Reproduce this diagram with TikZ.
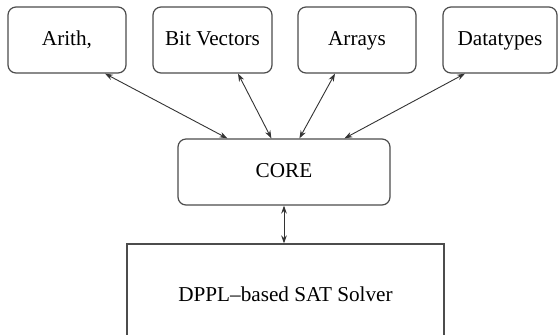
\documentclass[tikz,border=0pt]{standalone}
\usepackage{fontspec}
\setmainfont{Liberation Serif}
\usetikzlibrary{arrows.meta,calc,positioning}

\tikzset{
  theory/.style={draw=gray!60!black, line width=0.6pt, rounded corners=4pt,
    minimum height=33pt, inner sep=0pt, text height=7.5pt, text depth=2pt,
    font=\fontsize{10.6}{12}\selectfont},
  solver/.style={draw=gray!60!black, line width=0.6pt, minimum width=158.5pt,
    minimum height=50pt, inner sep=0pt, font=\fontsize{10.6}{12}\selectfont},
  link/.style={draw=gray!40!black, line width=0.45pt,
    {Stealth[length=4pt,width=2.8pt]}-{Stealth[length=4pt,width=2.8pt]}}
}

\begin{document}
\begin{tikzpicture}[x=0.5pt,y=-0.5pt]
    \useasboundingbox (0,0) rectangle (558,334);
    \node[theory, minimum width=59pt] (arith) at (67,40) {Arith,};
    \node[theory, minimum width=59.5pt] (bitvec) at (212.5,40) {Bit Vectors};
    \node[theory, minimum width=59pt] (arrays) at (357,40) {Arrays};
    \node[theory, minimum width=57pt] (dtypes) at (500,40) {Datatypes};
    \node[theory, minimum width=106pt] (core) at (284,172) {CORE};
    \node[solver] (sat) at (285.5,294) {DPPL--based SAT Solver};
    \draw[link] ([xshift=19pt]arith.south) -- ([xshift=25pt]core.north west);
    \draw[link] ([xshift=12.75pt]bitvec.south) -- ([xshift=47pt]core.north west);
    \draw[link] ([xshift=-11pt]arrays.south) -- ([xshift=61pt]core.north west);
    \draw[link] ([xshift=-17.5pt]dtypes.south) -- ([xshift=83.5pt]core.north west);
    \draw[link] (core.south) -- (core.south |- sat.north);
\end{tikzpicture}
\end{document}
